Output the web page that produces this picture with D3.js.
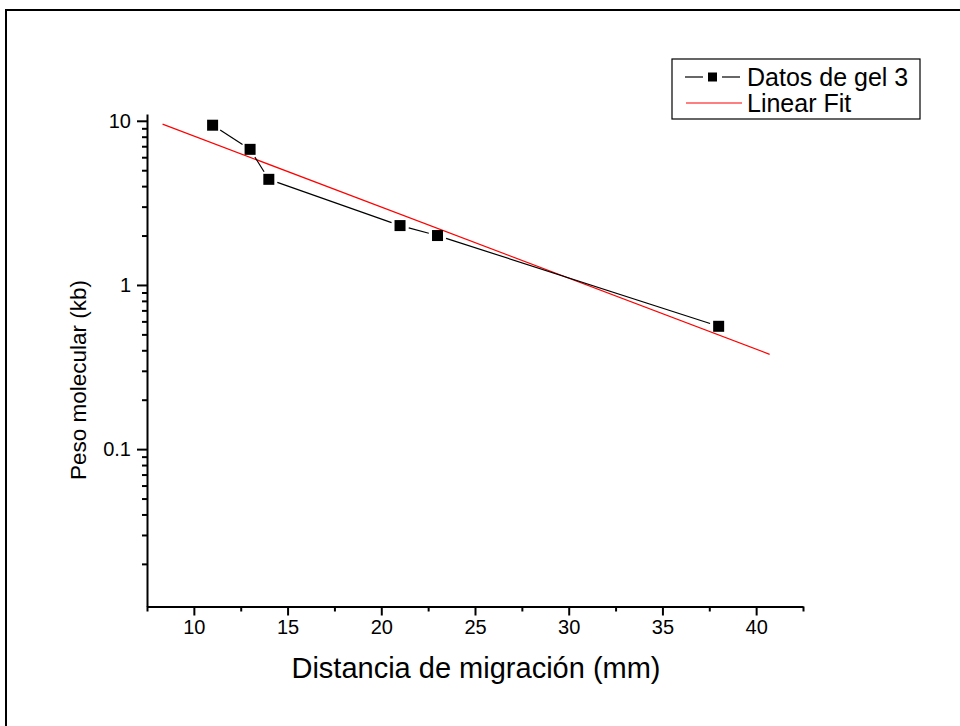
<!DOCTYPE html>
<html>
<head>
<meta charset="utf-8">
<script src="https://cdn.jsdelivr.net/npm/d3@7"></script>
<style>
  body { margin: 0; background: #fff; }
  text { font-family: "Liberation Sans", Arial, sans-serif; fill: #000; }
</style>
</head>
<body>
<div id="chart"></div>
<script>
// Data
// =================================
var distance = [11, 13, 14, 21, 23, 38];
var weight = [9.4, 6.7, 4.4, 2.3, 2.0, 0.56];
var fitX = [8.33, 40.72];
var fitY = [9.55, 0.378];
var xMajorTicks = [10, 15, 20, 25, 30, 35, 40];
var xMinorTicks = [7.5, 12.5, 17.5, 22.5, 27.5, 32.5, 37.5, 42.5];
var yMajorTicks = [0.1, 1, 10];
var yMinorTicks = [0.02, 0.03, 0.04, 0.05, 0.06, 0.07, 0.08, 0.09,
    0.2, 0.3, 0.4, 0.5, 0.6, 0.7, 0.8, 0.9,
    2, 3, 4, 5, 6, 7, 8, 9];
var legendNames = ["Datos de gel 3", "Linear Fit"];

// Step 1: Set up our chart
//= ================================
var svgWidth = 960;
var svgHeight = 726;

var plot = { left: 147, right: 803, top: 114, bottom: 606.5 };

var svg = d3.select("#chart")
    .append("svg")
    .attr("width", svgWidth)
    .attr("height", svgHeight);

// outer frame
svg.append("rect")
    .attr("x", 6)
    .attr("y", 10)
    .attr("width", 1000)
    .attr("height", 1000)
    .attr("fill", "none")
    .attr("stroke", "#000")
    .attr("stroke-width", 2);

// Step 2: Create scale functions
// ==============================
var xScale = d3.scaleLinear()
    .domain([7.5, 42.5])
    .range([plot.left, plot.right]);

var yScale = d3.scaleLog()
    .domain([0.011, 11])
    .range([plot.bottom, plot.top]);

// Step 3: Axes (major + minor ticks)
// ==============================
function styleAxis(g) {
    g.select(".domain").attr("stroke", "#000").attr("stroke-width", 2);
    g.selectAll(".tick line").attr("stroke", "#000").attr("stroke-width", 2);
    g.attr("font-size", 20).attr("font-family", "Liberation Sans, Arial, sans-serif");
}

svg.append("g")
    .attr("transform", `translate(0, ${plot.bottom})`)
    .call(d3.axisBottom(xScale).tickValues(xMinorTicks).tickSize(5).tickSizeOuter(0).tickFormat(""))
    .call(styleAxis);

svg.append("g")
    .attr("transform", `translate(0, ${plot.bottom})`)
    .call(d3.axisBottom(xScale).tickValues(xMajorTicks).tickSize(9).tickSizeOuter(0).tickPadding(4))
    .call(styleAxis)
    .call(g => g.select(".domain").remove());

svg.append("g")
    .attr("transform", `translate(${plot.left}, 0)`)
    .call(d3.axisLeft(yScale).tickValues(yMinorTicks).tickSize(5).tickSizeOuter(0).tickFormat(""))
    .call(styleAxis);

svg.append("g")
    .attr("transform", `translate(${plot.left}, 0)`)
    .call(d3.axisLeft(yScale).tickValues(yMajorTicks).tickSize(10).tickSizeOuter(0).tickPadding(6)
        .tickFormat(d => d >= 1 ? d3.format("d")(d) : d3.format(".1f")(d)))
    .call(styleAxis)
    .call(g => g.select(".domain").remove());

// axis titles
svg.append("text")
    .attr("x", 476)
    .attr("y", 678)
    .attr("text-anchor", "middle")
    .attr("font-size", "29px")
    .text("Distancia de migración (mm)");

svg.append("text")
    .attr("transform", "translate(86, 380) rotate(-90)")
    .attr("text-anchor", "middle")
    .attr("font-size", "22.5px")
    .text("Peso molecular (kb)");

// Step 4: Fit line
// ==============================
svg.append("line")
    .attr("x1", xScale(fitX[0]))
    .attr("y1", yScale(fitY[0]))
    .attr("x2", xScale(fitX[1]))
    .attr("y2", yScale(fitY[1]))
    .attr("stroke", "#ff0000")
    .attr("stroke-width", 1.2);

// Step 5: Data line with gaps at the markers, then squares
// ==============================
var gap = 9;
var pts = distance.map((d, i) => [xScale(d), yScale(weight[i])]);
var segs = d3.pairs(pts).map(p => {
    var dx = p[1][0] - p[0][0], dy = p[1][1] - p[0][1];
    var len = Math.sqrt(dx * dx + dy * dy);
    var ux = dx / len, uy = dy / len;
    return [p[0][0] + ux * gap, p[0][1] + uy * gap, p[1][0] - ux * gap, p[1][1] - uy * gap];
});

svg.selectAll(".seg")
    .data(segs)
    .enter()
    .append("line")
    .attr("class", "seg")
    .attr("x1", d => d[0])
    .attr("y1", d => d[1])
    .attr("x2", d => d[2])
    .attr("y2", d => d[3])
    .attr("stroke", "#000")
    .attr("stroke-width", 1.2);

var size = 11;
svg.selectAll(".pt")
    .data(distance)
    .enter()
    .append("rect")
    .attr("class", "pt")
    .attr("x", (d, i) => xScale(d) - size / 2)
    .attr("y", (d, i) => yScale(weight[i]) - size / 2)
    .attr("width", size)
    .attr("height", size)
    .attr("fill", "#000");

// Step 6: Legend
// ==============================
var legend = svg.append("g");

legend.append("rect")
    .attr("x", 672)
    .attr("y", 59)
    .attr("width", 248)
    .attr("height", 60)
    .attr("fill", "#fff")
    .attr("stroke", "#000")
    .attr("stroke-width", 1.2);

var rowY = [77, 103];

legend.append("line")
    .attr("x1", 685).attr("x2", 703)
    .attr("y1", rowY[0]).attr("y2", rowY[0])
    .attr("stroke", "#000").attr("stroke-width", 1.2);
legend.append("line")
    .attr("x1", 722).attr("x2", 740)
    .attr("y1", rowY[0]).attr("y2", rowY[0])
    .attr("stroke", "#000").attr("stroke-width", 1.2);
legend.append("rect")
    .attr("x", 708).attr("y", rowY[0] - 4.5)
    .attr("width", 9).attr("height", 9)
    .attr("fill", "#000");

legend.append("line")
    .attr("x1", 686).attr("x2", 742)
    .attr("y1", rowY[1]).attr("y2", rowY[1])
    .attr("stroke", "#ff0000").attr("stroke-width", 1.2);

legend.selectAll(".legtext")
    .data(legendNames)
    .enter()
    .append("text")
    .attr("class", "legtext")
    .attr("x", 747)
    .attr("y", (d, i) => rowY[i])
    .attr("dy", "0.36em")
    .attr("font-size", "25px")
    .text(d => d);
</script>
</body>
</html>
